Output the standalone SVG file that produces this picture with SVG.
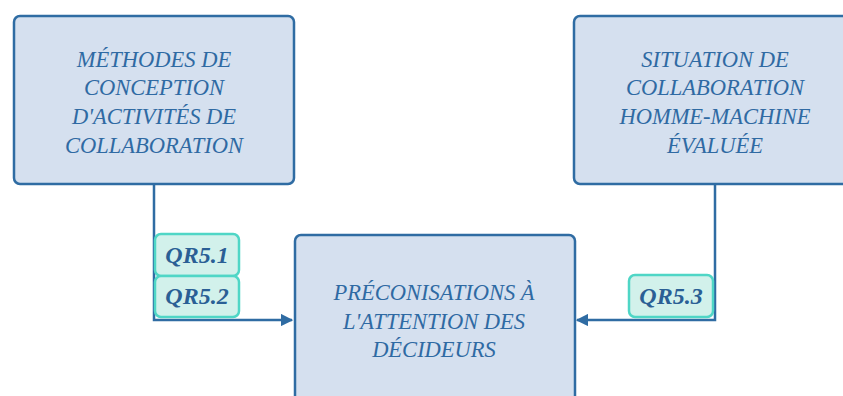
<svg xmlns="http://www.w3.org/2000/svg" width="843" height="396" viewBox="0 0 843 396">
<defs>
<style>
.box{fill:#d5e0ef;stroke:#2f6ca3;stroke-width:2.5}
.t{font-family:"Liberation Serif","DejaVu Serif",serif;font-style:italic;font-size:22.5px;fill:#2f6aa3;text-anchor:middle}
.lab{fill:#d2f1eb;stroke:#4fd6c6;stroke-width:2.5}
.lt{font-family:"Liberation Serif","DejaVu Serif",serif;font-style:italic;font-weight:bold;font-size:24px;fill:#2a5f95;text-anchor:middle}
.c{fill:none;stroke:#2f6ca3;stroke-width:2.5}
</style>
<marker id="ah" viewBox="0 0 10 10" refX="9" refY="5" markerWidth="5" markerHeight="5" orient="auto" markerUnits="strokeWidth">
<path d="M0,0 L10,5 L0,10 z" fill="#2f6ca3"/>
</marker>
</defs>
<g id="connectors">
<path class="c" d="M154,184 V320 H292" marker-end="url(#ah)"/>
<path class="c" d="M715,184 V320 H577" marker-end="url(#ah)"/>
</g>
<g id="n1">
<rect class="box" x="14" y="16" width="280" height="168" rx="6"/>
<text class="t" x="154" y="67">MÉTHODES DE</text>
<text class="t" x="154" y="95">CONCEPTION</text>
<text class="t" x="154" y="124">D'ACTIVITÉS DE</text>
<text class="t" x="154" y="153">COLLABORATION</text>
</g>
<g id="n2">
<rect class="box" x="574" y="16" width="290" height="168" rx="6"/>
<text class="t" x="715" y="67">SITUATION DE</text>
<text class="t" x="715" y="95">COLLABORATION</text>
<text class="t" x="715" y="124">HOMME-MACHINE</text>
<text class="t" x="715" y="153">ÉVALUÉE</text>
</g>
<g id="n3">
<rect class="box" x="295" y="235" width="280" height="180" rx="6"/>
<text class="t" x="434" y="300">PRÉCONISATIONS À</text>
<text class="t" x="434" y="329">L'ATTENTION DES</text>
<text class="t" x="434" y="357">DÉCIDEURS</text>
</g>
<g id="l1">
<rect class="lab" x="155" y="234" width="84" height="42" rx="6"/>
<text class="lt" x="197" y="263">QR5.1</text>
</g>
<g id="l2">
<rect class="lab" x="155" y="276" width="84" height="41" rx="6"/>
<text class="lt" x="197" y="304">QR5.2</text>
</g>
<g id="l3">
<rect class="lab" x="629" y="275" width="84" height="42" rx="6"/>
<text class="lt" x="671" y="304">QR5.3</text>
</g>
</svg>
